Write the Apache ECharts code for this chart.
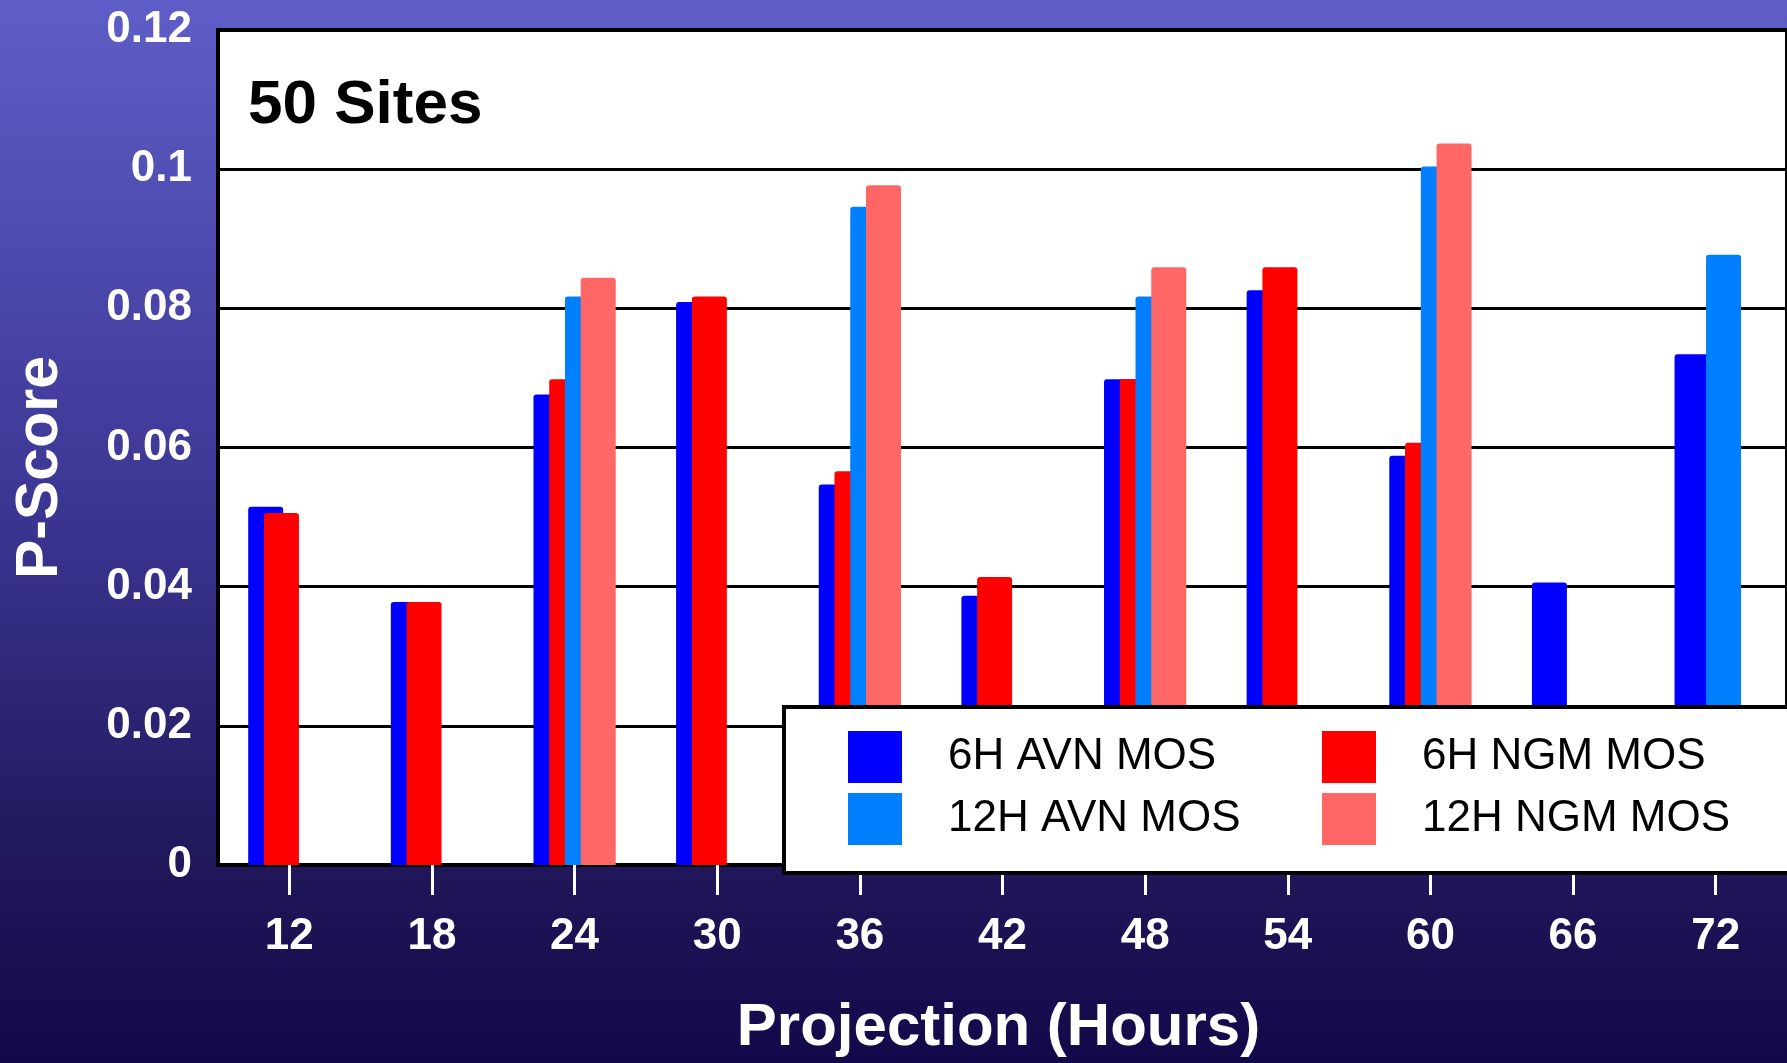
<!DOCTYPE html>
<html>
<head>
<meta charset="utf-8">
<script src="https://cdn.jsdelivr.net/npm/echarts@6/dist/echarts.min.js"></script>
<style>
html,body{margin:0;padding:0;width:1787px;height:1063px;overflow:hidden;}
#chart{width:1787px;height:1063px;}
</style>
</head>
<body>
<div id="chart"></div>
<script>
// ---- data ----
const categories = ['12', '18', '24', '30', '36', '42', '48', '54', '60', '66', '72'];
const seriesNames = ['6H AVN MOS', '6H NGM MOS', '12H AVN MOS', '12H NGM MOS'];
const avn6  = [0.0515, 0.0378, 0.0676, 0.0809, 0.0547, 0.0387, 0.0698, 0.0826, 0.0588, 0.0406, 0.0734];
const ngm6  = [0.0506, 0.0378, 0.0698, 0.0817, 0.0566, 0.0414, 0.0698, 0.0859, 0.0607, null, null];
const avn12 = [null, null, 0.0817, null, 0.0946, null, 0.0817, null, 0.1004, null, 0.0877];
const ngm12 = [null, null, 0.0844, null, 0.0977, null, 0.0859, null, 0.1037, null, null];
const yTicks = [0, 0.02, 0.04, 0.06, 0.08, 0.1, 0.12];
const panelLabel = '50 Sites';
const xTitle = 'Projection (Hours)';
const yTitle = 'P-Score';

const colors = ['#0000FF', '#FF0000', '#0080FF', '#FF6666'];
const values = [avn6, ngm6, avn12, ngm12];

const chart = echarts.init(document.getElementById('chart'), null, {renderer: 'canvas'});

const barSeries = seriesNames.map((name, i) => ({
  name: name,
  type: 'bar',
  data: values[i],
  barWidth: 35,
  barGap: '-55%',
  itemStyle: {color: colors[i], borderRadius: [3, 3, 0, 0]},
  emphasis: {disabled: true},
  z: 2 + i
}));

const legendCommon = {
  orient: 'vertical',
  icon: 'rect',
  itemWidth: 54,
  itemHeight: 52,
  itemGap: 10,
  selectedMode: false,
  z: 100,
  padding: 0,
  textStyle: {
    fontFamily: '"Liberation Sans Narrow", "Arial Narrow", "Liberation Sans", sans-serif',
    fontSize: 44,
    color: '#000',
    lineHeight: 52,
    padding: [0, 0, 0, 41]
  }
};

const option = {
  animation: false,
  backgroundColor: {
    type: 'linear', x: 0, y: 0, x2: 0, y2: 1,
    colorStops: [
      {offset: 0, color: '#5f5dc7'},
      {offset: 0.5, color: '#3a3490'},
      {offset: 0.82, color: '#1f1759'},
      {offset: 1, color: '#12094a'}
    ]
  },
  grid: {
    left: 218, top: 30, width: 1584, height: 840,
    show: true, backgroundColor: '#ffffff', borderColor: '#000000', borderWidth: 4
  },
  legend: [
    Object.assign({}, legendCommon, {left: 848, top: 731, data: [seriesNames[0], seriesNames[2]]}),
    Object.assign({}, legendCommon, {left: 1322, top: 731, data: [seriesNames[1], seriesNames[3]]})
  ],
  xAxis: {
    type: 'category',
    data: categories,
    boundaryGap: true,
    axisLine: {show: true, lineStyle: {color: '#000', width: 4}},
    axisTick: {show: true, alignWithLabel: true, inside: false, length: 30, lineStyle: {color: '#ffffff', width: 3}},
    axisLabel: {
      color: '#ffffff', fontSize: 44, fontWeight: 'bold',
      fontFamily: '"Liberation Sans", Arial, sans-serif', margin: 50
    },
    name: xTitle,
    nameLocation: 'middle',
    nameGap: 133,
    nameTextStyle: {
      color: '#ffffff', fontSize: 60, fontWeight: 'bold',
      fontFamily: '"Liberation Sans", Arial, sans-serif',
      padding: [0, 8, 0, 0]
    }
  },
  yAxis: {
    type: 'value',
    min: yTicks[0],
    max: yTicks[yTicks.length - 1],
    interval: yTicks[1] - yTicks[0],
    axisLine: {show: false},
    axisTick: {show: false},
    splitLine: {show: true, lineStyle: {color: '#000000', width: 3}},
    axisLabel: {
      color: '#ffffff', fontSize: 44, fontWeight: 'bold',
      fontFamily: '"Liberation Sans", Arial, sans-serif', margin: 26,
      formatter: v => String(parseFloat(v.toFixed(2)))
    },
    name: yTitle,
    nameLocation: 'middle',
    nameRotate: 90,
    nameGap: 148,
    nameTextStyle: {
      color: '#ffffff', fontSize: 59, fontWeight: 'bold',
      fontFamily: '"Liberation Sans", Arial, sans-serif',
      padding: [0, 40, 0, 0]
    }
  },
  graphic: [
    {
      type: 'text', left: 248, top: 75, z: 10,
      style: {
        text: panelLabel, fill: '#000000', fontSize: 62, fontWeight: 'bold',
        fontFamily: '"Liberation Sans", Arial, sans-serif'
      }
    },
    {
      type: 'rect', z: 50, left: 782, top: 705,
      shape: {x: 0, y: 0, width: 1100, height: 166},
      style: {fill: '#ffffff', stroke: '#000000', lineWidth: 4}
    }
  ],
  series: barSeries
};
chart.setOption(option);
</script>
</body>
</html>
